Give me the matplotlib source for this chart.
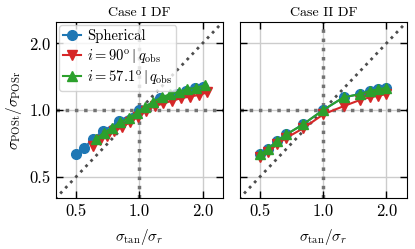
import numpy as np
import matplotlib
matplotlib.use('Agg')
import matplotlib.pyplot as plt
from matplotlib.ticker import FixedLocator, FixedFormatter, NullLocator

plt.rcParams['font.family'] = 'serif'
plt.rcParams['font.serif'] = ['cmr10']
plt.rcParams['mathtext.fontset'] = 'cm'
plt.rcParams['axes.formatter.use_mathtext'] = True

# Case I DF
x_sph1 = [0.5, 0.545, 0.6, 0.667, 0.8, 1.0, 1.25, 1.5, 1.667, 1.833, 2.0]
y_sph1 = [0.63, 0.673, 0.74, 0.80, 0.89, 1.0, 1.13, 1.18, 1.22, 1.25, 1.27]
x_red1 = [0.60, 0.65, 0.70, 0.76, 0.83, 0.90, 0.98, 1.07, 1.18, 1.30, 1.43, 1.58, 1.75, 1.93, 2.10]
y_red1 = [0.69, 0.73, 0.76, 0.80, 0.84, 0.88, 0.93, 0.99, 1.04, 1.07, 1.10, 1.13, 1.15, 1.17, 1.20]
x_grn1 = [0.62, 0.68, 0.74, 0.81, 0.89, 0.97, 1.06, 1.16, 1.28, 1.40, 1.54, 1.69, 1.86, 2.05]
y_grn1 = [0.74, 0.79, 0.83, 0.88, 0.92, 0.97, 1.03, 1.09, 1.14, 1.18, 1.21, 1.24, 1.26, 1.29]

# Case II DF
x_2 = [0.5, 0.545, 0.6, 0.667, 0.8, 1.0, 1.25, 1.5, 1.667, 1.833, 2.0]
y_sph2 = [0.63, 0.665, 0.725, 0.775, 0.86, 1.0, 1.14, 1.18, 1.22, 1.24, 1.26]
y_red2 = [0.612, 0.645, 0.698, 0.748, 0.825, 0.955, 1.04, 1.11, 1.14, 1.16, 1.18]
y_grn2 = [0.63, 0.665, 0.725, 0.775, 0.86, 1.0, 1.14, 1.18, 1.22, 1.24, 1.26]

ticks = [0.5, 1.0, 2.0]
tick_labels = ['0.5', '1.0', '2.0']
titles = ['Case I DF', 'Case II DF']

fig = plt.figure(figsize=(4.15, 2.49), dpi=100)
ax1 = fig.add_axes([0.135, 0.205, 0.402, 0.707])
ax2 = fig.add_axes([0.578, 0.205, 0.402, 0.707])

blue = '#1f77b4'
red = '#d62728'
green = '#2ca02c'

data = [
    (x_sph1, y_sph1, x_red1, y_red1, x_grn1, y_grn1),
    (x_2, y_sph2, x_2, y_red2, x_2, y_grn2),
]

for ax, d, title in zip([ax1, ax2], data, titles):
    ax.set_xscale('log')
    ax.set_yscale('log')
    ax.set_xlim(0.4, 2.5)
    ax.set_ylim(0.4, 2.5)
    for t in ticks:
        ax.axvline(t, color='0.8', lw=1, zorder=0)
        ax.axhline(t, color='0.8', lw=1, zorder=0)
    ax.axvline(1.0, color='0.45', lw=2.5, ls=':', zorder=1)
    ax.axhline(1.0, color='0.45', lw=2.5, ls=':', zorder=1)
    ax.plot([0.3, 3], [0.3, 3], color='0.3', lw=2, ls=':', zorder=1)

    ax.plot(d[0], d[1], '-o', color=blue, ms=7, lw=1.5, label='Spherical', zorder=3)
    ax.plot(d[2], d[3], '-v', color=red, ms=7.5, lw=1.5,
            label=r'$i = 90^{\rm o}\,|\,q_{\rm obs}$', zorder=4)
    ax.plot(d[4], d[5], '-^', color=green, ms=7.5, lw=1.5,
            label=r'$i = 57.1^{\rm o}\,|\,q_{\rm obs}$', zorder=5)

    ax.xaxis.set_major_locator(FixedLocator(ticks))
    ax.xaxis.set_major_formatter(FixedFormatter(tick_labels))
    ax.yaxis.set_major_locator(FixedLocator(ticks))
    ax.yaxis.set_major_formatter(FixedFormatter(tick_labels))
    ax.xaxis.set_minor_locator(NullLocator())
    ax.yaxis.set_minor_locator(NullLocator())
    ax.tick_params(direction='in', top=True, right=True, length=5, width=1,
                   labelsize=12, pad=4)
    ax.set_title(title, fontsize=10, pad=4)
    ax.set_xlabel(r'$\sigma_{\rm tan}/\sigma_r$', fontsize=11, labelpad=6)

ax1.set_ylabel(r'$\sigma_{\rm POSt}/\sigma_{\rm POSr}$', fontsize=11, labelpad=4)
ax2.set_yticklabels([])
ax1.legend(loc='upper left', fontsize=10.5, handlelength=1.2, handletextpad=0.4,
           borderpad=0.3, labelspacing=0.25, borderaxespad=0.2, framealpha=0.8)

fig.savefig('out.png', dpi=100)
